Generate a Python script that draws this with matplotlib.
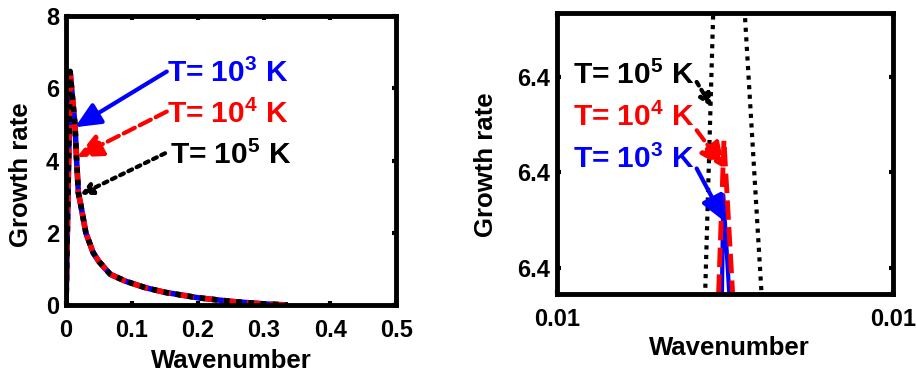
import matplotlib
matplotlib.use('Agg')
import matplotlib.pyplot as plt

# Growth rate vs wavenumber
# rising edge (shared by all three temperatures)
k_rise = [0.0]
g_rise = [0.0]

# peak region, one set per temperature (this is what the right panel zooms into)
k_peak_1e3 = [0.006245, 0.006247, 0.006256]
g_peak_1e3 = [6.43365, 6.43882, 6.43365]
k_peak_1e4 = [0.006240, 0.006248, 0.006261]
g_peak_1e4 = [6.43365, 6.44168, 6.43365]
k_peak_1e5 = [0.006220, 0.006232, 0.006247, 0.006279, 0.006304]
g_peak_1e5 = [6.43365, 6.44830, 6.46700, 6.44830, 6.43365]

# decaying tail (shared)
k_tail = [0.0136, 0.016, 0.0187, 0.022, 0.025, 0.030, 0.035, 0.041, 0.050,
          0.067, 0.090, 0.120, 0.150, 0.200, 0.250, 0.300, 0.336]
g_tail = [4.96, 4.02, 3.10, 2.80, 2.50, 2.00, 1.75, 1.45, 1.20,
          0.85, 0.66, 0.48, 0.35, 0.20, 0.10, 0.03, 0.0]

labels = ['T= 10$^{3}$ K', 'T= 10$^{4}$ K', 'T= 10$^{5}$ K']
colors = ['#0000ff', '#ff0000', '#000000']

left_xticks = [0, 0.1, 0.2, 0.3, 0.4, 0.5]
left_xticklabels = ['0', '0.1', '0.2', '0.3', '0.4', '0.5']
left_yticks = [0, 2, 4, 6, 8]
right_xticks = [0.0060, 0.0065]
right_xticklabels = ['0.01', '0.01']
right_yticks = [6.435, 6.440, 6.445]
right_yticklabels = ['6.4', '6.4', '6.4']

plt.rcParams['font.family'] = ['Liberation Sans', 'DejaVu Sans']
plt.rcParams['font.weight'] = 'bold'
plt.rcParams['mathtext.fontset'] = 'custom'
plt.rcParams['mathtext.rm'] = 'Liberation Sans:bold'
plt.rcParams['mathtext.bf'] = 'Liberation Sans:bold'
plt.rcParams['mathtext.it'] = 'Liberation Sans:bold'
plt.rcParams['mathtext.default'] = 'rm'

curves = []
for kp, gp in [(k_peak_1e3, g_peak_1e3), (k_peak_1e4, g_peak_1e4), (k_peak_1e5, g_peak_1e5)]:
    curves.append((k_rise + kp + k_tail, g_rise + gp + g_tail))

fig = plt.figure(figsize=(9.16, 3.73), dpi=100)
ax1 = fig.add_axes([0.0721, 0.1823, 0.3603, 0.7748])
ax2 = fig.add_axes([0.6084, 0.2110, 0.3668, 0.7534])

TXT = 21.5


def style_axes(ax):
    for sp in ax.spines.values():
        sp.set_linewidth(3.5)
    ax.tick_params(direction='in', length=3, width=3, top=True, right=True,
                   labelsize=17)
    ax.tick_params(axis='x', pad=10)
    ax.tick_params(axis='y', pad=5)


def draw_arrows(ax, ann):
    for (tp, tail, head, ls, hs), lab, c in zip(ann, labels, colors):
        ax.text(tp[0], tp[1], lab, color=c, fontsize=TXT, fontweight='bold',
                ha='left', va='baseline')
        if hs == 'small':
            style = '-|>,head_length=0.5,head_width=0.25'
        else:
            style = '-|>,head_length=1.1,head_width=0.5'
        ax.annotate('', xy=head, xytext=tail,
                    arrowprops=dict(arrowstyle=style, color=c, lw=3, linestyle=ls,
                                    shrinkA=0, shrinkB=0, mutation_scale=14))


# left panel: full curves
lw_l = 4
ax1.plot(*curves[0], color=colors[0], lw=lw_l, solid_capstyle='butt')
ax1.plot(*curves[1], color=colors[1], lw=lw_l, dashes=(3, 1.2), dash_capstyle='butt')
ax1.plot(*curves[2], color=colors[2], lw=lw_l, dashes=(1, 1.2), dash_capstyle='butt')
ax1.set_xlim(0, 0.5)
ax1.set_ylim(0, 8)
ax1.set_xticks(left_xticks)
ax1.set_xticklabels(left_xticklabels)
ax1.set_yticks(left_yticks)
style_axes(ax1)
ax1.set_xlabel('Wavenumber', fontsize=18.5, fontweight='bold')
ax1.set_ylabel('Growth rate', fontsize=18.5, fontweight='bold')
ax1.xaxis.set_label_coords(0.5, -0.152)
ax1.yaxis.set_label_coords(-0.10, 0.45)

# annotations: (text pos, arrow tail, arrow head, linestyle, head type)
ann_left = [
    ((0.1526, 6.186), (0.1526, 6.463), (0.0136, 4.92), '-', 'big'),
    ((0.1526, 5.050), (0.1526, 5.355), (0.0162, 4.09), (0, (3, 1.3)), 'big'),
    ((0.1576, 3.906), (0.150, 4.20), (0.0212, 3.05), (0, (1, 1.2)), 'small'),
]
draw_arrows(ax1, ann_left)

# right panel: zoom on the peak
ax2.plot(*curves[0], color=colors[0], lw=3, solid_capstyle='butt')
ax2.plot(*curves[1], color=colors[1], lw=3.5, dashes=(4, 1.5), dash_capstyle='butt')
ax2.plot(*curves[2], color=colors[2], lw=3, dashes=(1, 1.3), dash_capstyle='butt')
ax2.set_xlim(0.0060, 0.0065)
ax2.set_ylim(6.43365, 6.4483)
ax2.set_xticks(right_xticks)
ax2.set_xticklabels(right_xticklabels)
ax2.set_yticks(right_yticks)
ax2.set_yticklabels(right_yticklabels)
style_axes(ax2)
ax2.set_xlabel('Wavenumber', fontsize=18.5, fontweight='bold')
ax2.set_ylabel('Growth rate', fontsize=18.5, fontweight='bold')
ax2.xaxis.set_label_coords(0.511, -0.15)
ax2.yaxis.set_label_coords(-0.176, 0.46)

ann_right = [
    ((0.0060238, 6.44021), (0.0062074, 6.44021), (0.0062495, 6.43743), '-', 'big'),
    ((0.0060238, 6.44241), (0.0062074, 6.44220), (0.0062495, 6.44021), (0, (3, 1.3)), 'big'),
    ((0.0060238, 6.44463), (0.0062074, 6.44472), (0.0062297, 6.44342), (0, (1, 1.2)), 'small'),
]
draw_arrows(ax2, ann_right)

fig.savefig('out.png', dpi=100)
